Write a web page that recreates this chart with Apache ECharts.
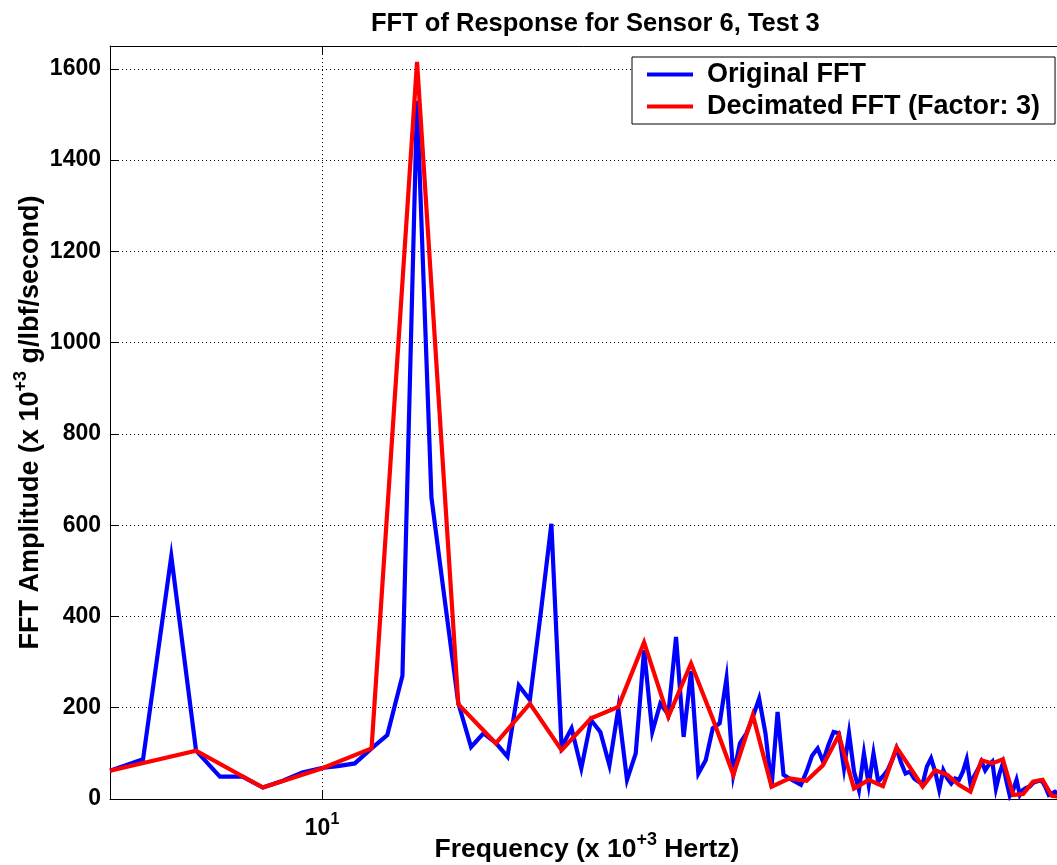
<!DOCTYPE html>
<html>
<head>
<meta charset="utf-8">
<script src="https://cdn.jsdelivr.net/npm/echarts@6/dist/echarts.min.js"></script>
<style>
html,body{margin:0;padding:0;background:#fff;overflow:hidden;}
#chart{width:1057px;height:865px;}
</style>
</head>
<body>
<div id="chart"></div>
<script>
// Frequencies (x 10^3 Hz) of the original FFT bins
const blueFreq = [5.97,6.47,6.93,7.36,7.80,8.24,8.66,9.09,9.53,9.99,
10.39,10.83,11.28,11.72,12.16,12.60,13.05,13.49,13.93,14.37,
14.81,15.26,15.70,16.14,16.58,17.03,17.47,17.91,18.35,18.79,
19.24,19.68,20.12,20.56,21.00,21.45,21.89,22.33,22.77,23.22,
23.66,24.10,24.54,24.98,25.43,25.87,26.31,26.75,27.20,27.64,
28.08,28.52,28.96,29.41,29.85,30.29,30.73,31.18,31.62,32.06,
32.50,32.94,33.39,33.83,34.27,34.71,35.16,35.60,36.04,36.48,
36.92,37.37,37.81,38.25,38.69,39.14,39.58,40.02,40.46,40.90,
41.35,41.79,42.23,42.67,43.11,43.56,44.00,44.44,44.88,45.33,
45.77,46.21,46.65,47.09,47.54,47.98,48.42,48.86,49.31,49.75,
50.19,50.63,51.07,51.52,51.96,52.40,52.84,53.29,53.73,54.17,
54.61,55.05,55.50,55.94,56.38,56.82,57.27,57.71,58.15,58.59,
59.03,59.48,59.92,60.36,60.80];
const blueAmp = [62,87,532,106,49,49,25,40,58,68,
72,78,111,140,270,1530,660,430,210,114,
144,123,93,249,217,410,603,114,155,67,
173,147,74,198,42,100,326,147,209,185,
355,136,280,56,85,155,166,264,53,122,
144,180,220,144,27,191,53,45,38,31,
60,95,111,82,118,147,144,67,144,60,
20,100,31,100,38,50,63,85,111,80,
56,60,45,38,34,71,89,60,20,63,
45,34,45,42,60,87,34,50,65,82,
63,75,82,23,55,78,40,7,20,42,
9,20,25,27,35,38,40,38,25,9,
12,16,12,8,6];
// Decimated FFT (factor 3)
const redFreq = [5.97,7.36,8.66,9.99,11.28,12.60,13.93,15.26,16.58,17.91,
19.24,20.56,21.89,23.22,24.54,25.87,27.20,28.52,29.85,31.18,
32.50,33.83,35.16,36.48,37.81,39.14,40.46,41.79,43.11,44.44,
45.77,47.09,48.42,49.75,51.07,52.40,53.73,55.05,56.38,57.71,
59.03,60.36];
const redAmp = [62,106,25,67,111,1615,208,122,209,107,
177,202,343,180,297,176,53,184,27,45,
40,74,140,23,42,28,113,70,27,63,
53,31,16,85,78,87,9,11,38,42,
7,5];
const seriesNames = ['Original FFT', 'Decimated FFT (Factor: 3)'];
const yTicks = [0,200,400,600,800,1000,1200,1400,1600];

const FONT = '"Liberation Sans", Arial, Helvetica, sans-serif';
const pairs = (xs, ys) => xs.map((x, i) => [x, ys[i]]);
const xMin = blueFreq[0], xMax = blueFreq[blueFreq.length - 1];

const chart = echarts.init(document.getElementById('chart'), null, {renderer: 'canvas', width: 1057, height: 865});
chart.setOption({
  animation: false,
  backgroundColor: '#fff',
  title: {
    text: 'FFT of Response for Sensor 6, Test 3',
    left: 366, top: 6,
    textStyle: {fontFamily: FONT, fontWeight: 'bold', fontSize: 25.5, color: '#000'}
  },
  grid: {left: 110, top: 46, right: -7, bottom: 66, containLabel: false, outerBoundsMode: 'none'},
  legend: {
    orient: 'vertical',
    left: 632, top: 57,
    padding: [4, 15, 4, 15],
    itemGap: 5,
    itemWidth: 46, itemHeight: 4,
    icon: 'rect',
    backgroundColor: '#fff',
    borderColor: '#000', borderWidth: 1,
    textStyle: {fontFamily: FONT, fontWeight: 'bold', fontSize: 27, color: '#000', padding: [0, 0, 0, 9]},
    data: seriesNames
  },
  xAxis: [{
    type: 'log', logBase: 10, min: xMin, max: xMax,
    position: 'bottom',
    axisLine: {show: true, lineStyle: {color: '#000', width: 1}},
    axisTick: {show: true, inside: true, length: 9, lineStyle: {color: '#000'}},
    splitLine: {show: true, lineStyle: {color: '#000', type: [1, 3], width: 1}},
    axisLabel: {
      margin: 13,
      formatter: v => (Math.abs(v - 10) < 1e-6 ? '{a|10}{s|1}' : ''),
      rich: {
        a: {fontFamily: FONT, fontWeight: 'bold', fontSize: 23, color: '#000', lineHeight: 34},
        s: {fontFamily: FONT, fontWeight: 'bold', fontSize: 16, color: '#000', lineHeight: 16, verticalAlign: 'top'}
      }
    },
    name: '{n|Frequency (x 10}{s|+3}{n| Hertz)}',
    nameLocation: 'middle', nameGap: 32, nameMoveOverlap: false,
    nameTextStyle: {
      rich: {
        n: {fontFamily: FONT, fontWeight: 'bold', fontSize: 26.5, color: '#000', lineHeight: 38},
        s: {fontFamily: FONT, fontWeight: 'bold', fontSize: 18, color: '#000', lineHeight: 18, verticalAlign: 'top'}
      }
    }
  }, {
    type: 'log', logBase: 10, min: xMin, max: xMax,
    position: 'top',
    axisLine: {show: true, lineStyle: {color: '#000', width: 1}},
    axisTick: {show: true, inside: true, length: 9, lineStyle: {color: '#000'}},
    axisLabel: {show: false},
    splitLine: {show: false}
  }],
  yAxis: {
    type: 'value', min: 0, max: 1650, interval: 200,
    axisLine: {show: true, lineStyle: {color: '#000', width: 1}},
    axisTick: {show: true, inside: true, length: 9, lineStyle: {color: '#000'}},
    splitLine: {show: true, lineStyle: {color: '#000', type: [1, 3], width: 1}},
    axisLabel: {
      margin: 9, showMaxLabel: false,
      formatter: v => (yTicks.indexOf(v) >= 0 ? String(v) : ''),
      fontFamily: FONT, fontWeight: 'bold', fontSize: 23, color: '#000'
    },
    name: '{n|FFT Amplitude (x 10}{s|+3}{n| g/lbf/second)}',
    nameLocation: 'middle', nameGap: 60, nameMoveOverlap: false,
    nameTextStyle: {
      rich: {
        n: {fontFamily: FONT, fontWeight: 'bold', fontSize: 27, color: '#000', lineHeight: 38},
        s: {fontFamily: FONT, fontWeight: 'bold', fontSize: 18, color: '#000', lineHeight: 18, verticalAlign: 'top'}
      }
    }
  },
  series: [{
    name: seriesNames[0], type: 'line', xAxisIndex: 0,
    data: pairs(blueFreq, blueAmp),
    symbol: 'none', showSymbol: false,
    lineStyle: {color: '#0000ff', width: 4.2, join: 'miter'},
    itemStyle: {color: '#0000ff'},
    z: 2
  }, {
    name: seriesNames[1], type: 'line', xAxisIndex: 0,
    data: pairs(redFreq, redAmp),
    symbol: 'none', showSymbol: false,
    lineStyle: {color: '#ff0000', width: 4.2, join: 'miter'},
    itemStyle: {color: '#ff0000'},
    z: 3
  }]
});
</script>
</body>
</html>
